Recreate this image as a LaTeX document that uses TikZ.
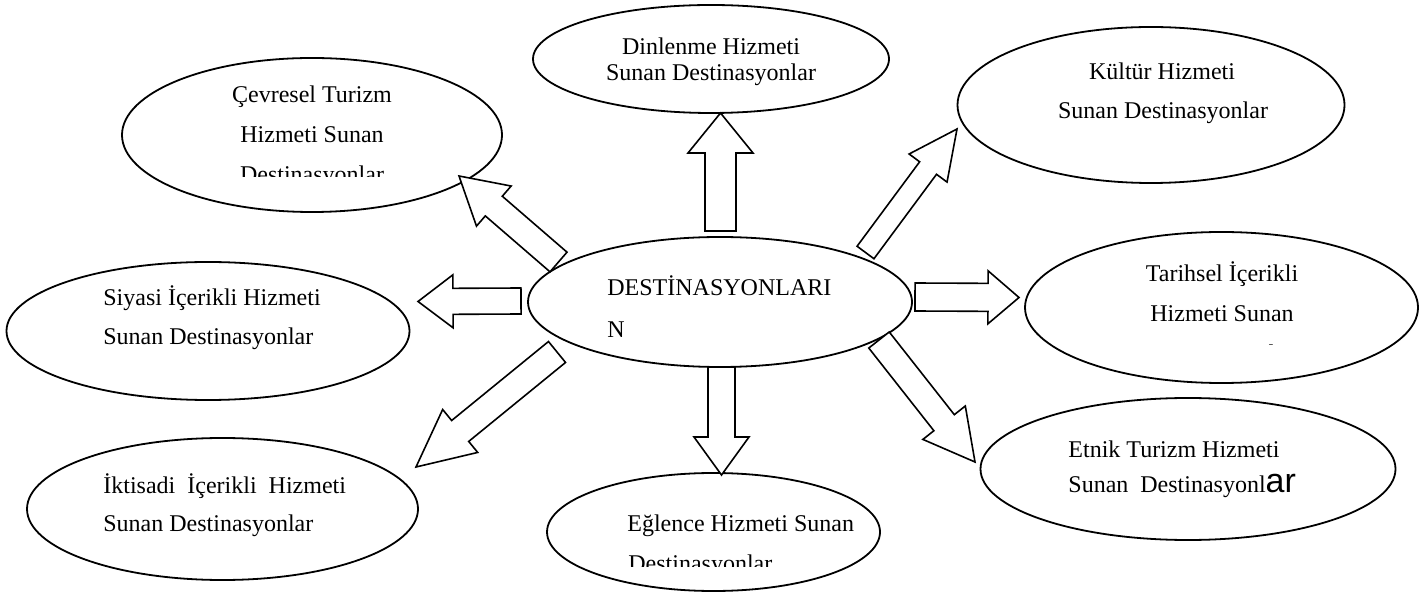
\documentclass[tikz,border=0pt]{standalone}
\usepackage{fontspec}
\setmainfont{Liberation Serif}
\newfontfamily\bigsans{Liberation Sans}
\usetikzlibrary{shapes.geometric,calc}

% hollow block arrow: tail, tip, half shaft width, half head width, head length
\newcommand{\blockarrow}[5]{%
  \coordinate (ba-h) at ($(#2)!#5!(#1)$);
  \draw[blockarr] ($(#1)!#3!90:(#2)$) -- ($(ba-h)!#3!90:(#2)$) -- ($(ba-h)!#4!90:(#2)$)
    -- (#2) -- ($(ba-h)!#4!-90:(#2)$) -- ($(ba-h)!#3!-90:(#2)$) -- ($(#1)!#3!-90:(#2)$) -- cycle;
}

\begin{document}
\begin{tikzpicture}[x=0.5pt,y=-0.5pt,
  oval/.style={ellipse,draw,line width=0.9pt,inner sep=0pt},
  lbl/.style={inner sep=0pt,font=\fontsize{12}{14}\selectfont},
  blockarr/.style={draw,line width=0.8pt,line join=miter,fill=white}]
  \useasboundingbox (0,0) rectangle (1427,592);

  % ellipses
  \node[oval,minimum width=190pt,minimum height=77pt] (cevresel) at (312,135) {};
  \node[oval,minimum width=178pt,minimum height=54pt] (dinlenme) at (711,59) {};
  \node[oval,minimum width=193.5pt,minimum height=78pt] (kultur) at (1151,105) {};
  \node[oval,minimum width=201.5pt,minimum height=69pt] (siyasi) at (208,331) {};
  \node[oval,minimum width=192pt,minimum height=65pt] (merkez) at (720,302) {};
  \node[oval,minimum width=196.5pt,minimum height=75.5pt] (tarihsel) at (1221.5,307.5) {};
  \node[oval,minimum width=195.5pt,minimum height=71pt] (iktisadi) at (222.5,509) {};
  \node[oval,minimum width=166.5pt,minimum height=59pt] (eglence) at (713.5,532) {};
  \node[oval,minimum width=207.5pt,minimum height=71pt] (etnik) at (1188,469) {};

  % texts
  \node[lbl,anchor=base] (cevresel-a) at (312,103) {Çevresel Turizm};
  \node[lbl,anchor=base] (cevresel-b) at (312,143) {Hizmeti Sunan};
  \begin{scope}
    \clip (150,150) rectangle (480,177);
    \node[lbl,anchor=base] (cevresel-c) at (312,183) {Destinasyonlar};
  \end{scope}
  \node[lbl,anchor=base] (dinlenme-a) at (711,55) {Dinlenme Hizmeti};
  \node[lbl,anchor=base] (dinlenme-b) at (711,81) {Sunan Destinasyonlar};
  \node[lbl,anchor=base] (kultur-a) at (1162,80) {Kültür Hizmeti};
  \node[lbl,anchor=base] (kultur-b) at (1163,119) {Sunan Destinasyonlar};
  \node[lbl,anchor=base west] (siyasi-a) at (103,306) {Siyasi İçerikli Hizmeti};
  \node[lbl,anchor=base west] (siyasi-b) at (103,345) {Sunan Destinasyonlar};
  \node[lbl,anchor=base west] (merkez-a) at (607,296) {DESTİNASYONLARI};
  \node[lbl,anchor=base west] (merkez-b) at (607,338) {N};
  \node[lbl,anchor=base] (tarihsel-a) at (1222,282) {Tarihsel İçerikli};
  \node[lbl,anchor=base] (tarihsel-b) at (1222,322) {Hizmeti Sunan};
  \begin{scope}
    \clip (1100,330) rectangle (1350,344.5);
    \node[lbl,anchor=base] (tarihsel-c) at (1222,362) {Destinasyonlar};
  \end{scope}
  \node[lbl,anchor=base west] (iktisadi-a) at (103,493) {İktisadi \ İçerikli \ Hizmeti};
  \node[lbl,anchor=base west] (iktisadi-b) at (103,531) {Sunan Destinasyonlar};
  \node[lbl,anchor=base west] (eglence-a) at (627,531) {Eğlence Hizmeti Sunan};
  \begin{scope}
    \clip (600,540) rectangle (870,566);
    \node[lbl,anchor=base west] (eglence-b) at (628,571) {Destinasyonlar};
  \end{scope}
  \node[lbl,anchor=base west] (etnik-a) at (1068,457) {Etnik Turizm Hizmeti};
  \node[lbl,anchor=base west] (etnik-b) at (1068,492) {Sunan \ Destinasyonl{\bigsans\fontsize{17}{17}\selectfont ar}};

  % arrow ends
  \coordinate (up-s) at (720.5,231);   \coordinate (up-e) at (720.5,113);
  \coordinate (lf-s) at (521,301);     \coordinate (lf-e) at (418,301.5);
  \coordinate (rt-s) at (915,297);     \coordinate (rt-e) at (1019,297.5);
  \coordinate (dn-s) at (721.5,367);   \coordinate (dn-e) at (721.5,475);
  \coordinate (ul-s) at (558.5,262);   \coordinate (ul-e) at (459,176);
  \coordinate (ur-s) at (865.5,252.5); \coordinate (ur-e) at (957,129);
  \coordinate (dl-s) at (557,352);     \coordinate (dl-e) at (416,467);
  \coordinate (dr-s) at (879,340);     \coordinate (dr-e) at (975,462);

  % block arrows
  \blockarrow{up-s}{up-e}{7.75pt}{16.25pt}{20pt}
  \blockarrow{lf-s}{lf-e}{6.5pt}{13.25pt}{17.5pt}
  \blockarrow{rt-s}{rt-e}{7pt}{13.25pt}{15.5pt}
  \blockarrow{dn-s}{dn-e}{6.75pt}{13.75pt}{19pt}
  \blockarrow{ul-s}{ul-e}{6.5pt}{13.25pt}{23pt}
  \blockarrow{ur-s}{ur-e}{5.25pt}{11.8pt}{24.3pt}
  \blockarrow{dl-s}{dl-e}{6.75pt}{13.85pt}{28.5pt}
  \blockarrow{dr-s}{dr-e}{6.5pt}{13.5pt}{25pt}
\end{tikzpicture}
\end{document}
